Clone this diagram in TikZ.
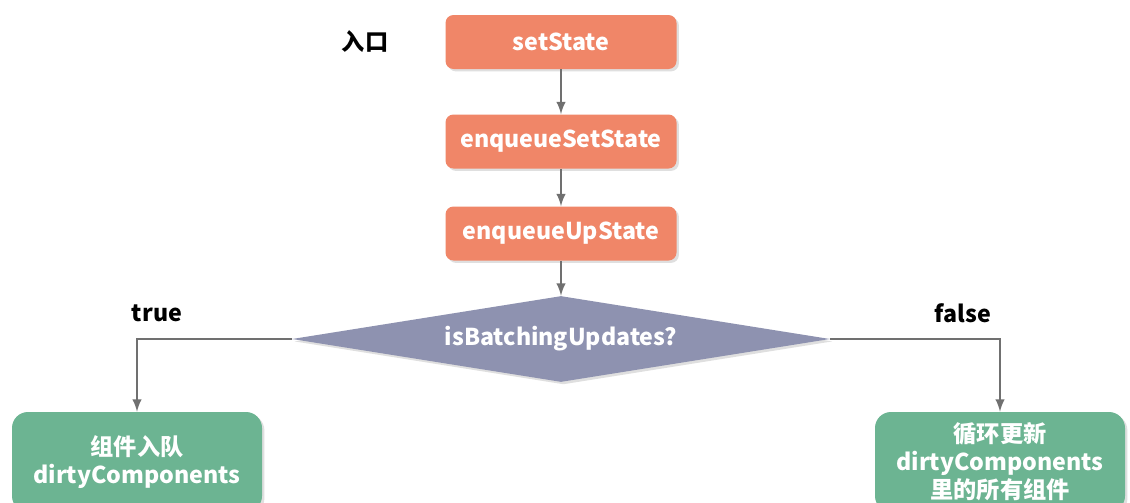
\documentclass[tikz,border=0pt]{standalone}
\usepackage{fontspec}
\setmainfont{Noto Sans CJK SC}
\usetikzlibrary{shapes.geometric}
\usetikzlibrary{shadows}
\usetikzlibrary{positioning}
\usetikzlibrary{arrows.meta}
\definecolor{stepred}{RGB}{240,134,104}
\definecolor{askblue}{RGB}{142,146,176}
\definecolor{donegreen}{RGB}{108,180,146}
\definecolor{edgegray}{RGB}{112,112,112}
\tikzset{
    boxshadow/.style = {drop shadow={shadow xshift=1.2pt,shadow yshift=-1.2pt,opacity=0.25}},
    stepnode/.style = {rectangle, rounded corners=4pt, fill=stepred, text=white, minimum width=115.5pt, minimum height=27pt, boxshadow},
    asknode/.style = {diamond, aspect=6.26, inner sep=0pt, fill=askblue, text=white, minimum width=269pt, minimum height=43pt, boxshadow},
    donenode/.style = {rectangle, rounded corners=8pt, fill=donegreen, text=white, align=center, minimum width=125pt, minimum height=50pt, boxshadow},
    tagnode/.style = {text=black},
    edgen/.style = {-latex, line width=1.1pt, edgegray}, % flow
}

\begin{document}
\begin{tikzpicture}[x=0.5pt, y=-0.5pt,
    font=\bfseries\fontsize{11.6}{14}\selectfont]

  \fill[white] (0,0) rectangle (1130,503);
  \useasboundingbox (0,0) rectangle (1130,503);

  % main chain
  \node[stepnode] (set) at (561,42) {setState};
  \node[stepnode] (enqs) at (561,141.5) {enqueueSetState};
  \node[stepnode] (enqu) at (561,233.5) {enqueueUpState};
  \node[asknode] (ask) at (561,339) {isBatchingUpdates?};

  % two outcomes
  \node[donenode] (todo) at (137,462) {组件入队\\dirtyComponents};
  \node[donenode] (loop) at (1000,462) {循环更新\\dirtyComponents\\里的所有组件};

  \node[tagnode] (entry) at (365,42) {入口};
  \node[tagnode] (yes) at (157,313) {true};
  \node[tagnode] (no) at (963,313) {false};

  \draw[edgen] (set) -- (enqs);
  \draw[edgen] (enqs) -- (enqu);
  \draw[edgen] (enqu) -- (ask.north);
  \draw[edgen] (ask.west) -| (todo.north);
  \draw[edgen] (ask.east) -| (loop.north);

\end{tikzpicture}
\end{document}
